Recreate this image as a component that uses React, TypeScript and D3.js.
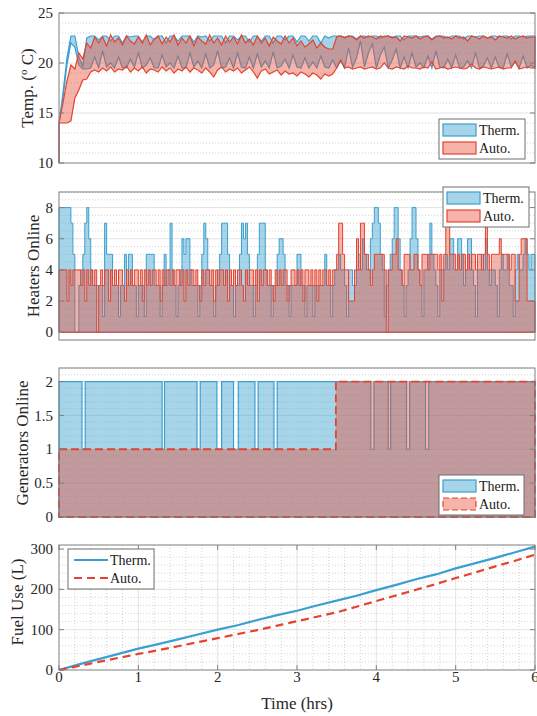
import React from 'react';
import * as d3 from 'd3';

// ---- data ----
const STEP_TEMP = 0.05;
const STEP_HEAT = 0.025;

// temperature envelopes, first point is the initial 10 C reading at t = 0
const thermTempHi = [10,
  14, 17, 20.5, 22.7, 22.7, 20.6, 19.7, 22.5, 22.7, 22.7,
  22.3, 22.7, 22.7, 22.2, 22.7, 22.7, 22.0, 22.7, 22.6, 22.7,
  22.7, 22.1, 22.7, 22.7, 22.3, 22.7, 22.7, 22.0, 22.7, 22.7,
  22.2, 22.7, 22.7, 22.7, 22.1, 22.7, 22.6, 22.7, 22.2, 22.7,
  22.7, 22.7, 22.0, 22.7, 22.7, 22.3, 22.7, 22.7, 22.1, 22.7,
  22.7, 22.2, 22.7, 22.7, 22.0, 22.7, 22.7, 22.3, 22.7, 22.7,
  22.1, 22.7, 22.7, 22.2, 22.7, 22.7, 22.0, 22.7, 22.5, 22.7,
  22.7, 22.7, 22.6, 22.7, 22.7, 22.4, 22.7, 22.7, 22.6, 22.7,
  22.7, 22.5, 22.7, 22.7, 22.6, 22.7, 22.7, 22.3, 22.7, 22.7,
  22.7, 22.6, 22.7, 22.7, 22.4, 22.7, 22.7, 22.7, 22.5, 22.7,
  22.7, 22.7, 22.4, 22.7, 22.7, 22.6, 22.7, 22.7, 22.5, 22.7,
  22.7, 22.6, 22.7, 22.7, 22.4, 22.7, 22.7, 22.6, 22.7, 22.7,
  22.7];
const thermTempLo = [10,
  14, 16.5, 19.8, 22.0, 21.6, 19.8, 19.4, 19.4, 19.5, 20.6,
  19.5, 21.2, 19.6, 20.0, 19.5, 20.6, 19.5, 19.5, 20.4, 19.6,
  21.0, 19.5, 19.8, 20.5, 19.5, 19.5, 20.8, 19.6, 20.0, 19.5,
  20.7, 19.5, 19.5, 21.0, 19.6, 20.2, 19.5, 20.9, 19.5, 19.8,
  21.2, 19.5, 19.6, 20.5, 19.5, 21.0, 19.6, 19.5, 20.6, 19.5,
  20.9, 19.6, 20.2, 19.5, 21.1, 19.5, 19.7, 20.4, 19.5, 20.8,
  19.6, 19.5, 20.5, 19.5, 20.1, 19.5, 20.7, 19.6, 19.5, 20.3,
  19.5, 20.2, 19.5, 21.5, 19.6, 20.5, 22.2, 19.6, 21.0, 21.9,
  19.5, 20.8, 21.6, 19.5, 20.3, 21.4, 19.5, 20.6, 19.5, 21.0,
  19.6, 20.0, 19.5, 20.7, 19.5, 21.2, 19.6, 19.5, 20.4, 19.5,
  20.8, 19.5, 19.6, 20.2, 19.5, 21.0, 19.5, 19.7, 20.5, 19.5,
  20.6, 19.5, 19.5, 20.9, 19.6, 20.1, 19.5, 20.7, 19.5, 19.8,
  19.5];
const autoTempHi = [10,
  14, 16.0, 18.2, 19.8, 19.4, 21.0, 20.4, 22.0, 21.5, 22.6,
  22.0, 22.6, 21.7, 22.8, 22.1, 22.5, 21.8, 22.7, 22.2, 21.9,
  22.6, 22.0, 22.8, 21.8, 22.4, 22.7, 21.9, 22.6, 22.1, 22.8,
  21.8, 22.5, 22.0, 22.7, 21.7, 22.6, 22.2, 21.9, 22.8, 22.0,
  22.5, 21.8, 22.7, 22.1, 22.6, 21.9, 22.8, 22.0, 22.4, 21.8,
  22.7, 22.0, 22.5, 21.7, 22.6, 22.2, 21.9, 22.7, 22.0, 22.5,
  21.7, 22.2, 21.6, 21.9, 22.3, 21.5, 22.0, 21.6, 21.4, 21.4,
  22.6, 22.7, 22.5, 22.7, 22.6, 22.3, 22.7, 22.5, 22.7, 22.6,
  22.4, 22.7, 22.6, 22.7, 22.5, 22.6, 22.2, 22.7, 22.6, 22.5,
  22.7, 22.4, 22.6, 22.7, 22.3, 22.6, 22.7, 22.5, 22.6, 22.4,
  22.7, 22.5, 22.6, 22.2, 22.7, 22.6, 22.4, 22.7, 22.5, 22.6,
  22.3, 22.7, 22.6, 22.5, 22.7, 22.4, 22.6, 22.7, 22.5, 22.6,
  22.6];
const autoTempLo = [10,
  14, 14, 14, 14.2, 16.5, 17.3, 18.3, 18.4, 19.1, 19.3,
  19.1, 19.5, 19.2, 19.6, 19.1, 19.4, 19.3, 19.7, 19.1, 19.5,
  19.2, 19.6, 19.0, 19.4, 19.3, 19.1, 19.6, 19.2, 19.5, 19.0,
  19.4, 19.2, 19.6, 19.1, 19.5, 19.3, 19.0, 19.5, 19.1, 18.6,
  19.3, 19.6, 19.1, 19.4, 19.2, 19.5, 19.0, 19.3, 19.6, 19.1,
  18.5, 19.2, 19.4, 18.9, 19.1, 19.3, 18.8, 19.2, 18.9, 19.0,
  18.7, 19.1, 18.9, 18.6, 19.0, 18.8, 18.4, 18.9, 18.7, 18.9,
  19.5, 20.3, 19.5, 19.6, 19.4, 19.5, 19.6, 19.4, 19.5, 19.6,
  19.4, 19.5, 20.0, 19.5, 19.4, 19.6, 19.5, 19.4, 19.7, 19.5,
  19.5, 19.4, 19.6, 19.5, 20.1, 19.4, 19.5, 19.6, 19.4, 19.5,
  19.6, 19.5, 19.4, 19.5, 19.9, 19.5, 19.4, 19.6, 19.5, 19.4,
  19.5, 19.6, 19.4, 19.5, 19.5, 20.2, 19.4, 19.5, 19.6, 19.5,
  19.5];

const thermHeaters = [
  8,8,8,8,8,8,7,5,0,0, 3,4,5,7,8,6,4,3,3,3,
  3,3,1,7,5,5,5,3,3,3, 1,3,3,5,3,5,5,3,3,1,
  3,3,3,1,5,5,5,5,3,3, 3,1,3,5,3,4,7,4,3,1,
  3,4,6,5,6,6,4,3,3,3, 1,3,5,7,6,4,3,3,1,3,
  4,5,7,7,7,5,3,3,1,3, 3,5,7,6,7,5,3,3,1,3,
  5,7,7,7,4,3,3,1,3,3, 5,6,6,5,3,3,1,3,3,3,
  5,5,3,3,1,3,3,3,1,3, 3,3,3,3,5,3,3,1,3,4,
  4,5,4,4,3,1,4,4,3,3, 4,5,4,6,5,4,4,6,7,8,
  8,7,5,4,1,3,4,5,6,8, 8,6,4,3,1,3,4,6,8,8,
  6,4,3,1,4,4,5,7,5,4, 3,1,4,4,4,5,4,6,6,4,
  4,6,6,5,3,4,6,6,4,3, 1,4,4,5,4,6,4,3,4,4,
  3,1,4,5,4,4,5,3,3,1, 4,5,4,4,5,6,5,4,5,5, 4];
const autoHeaters = [
  4,4,4,4,2,4,3,4,4,4, 4,3,4,2,4,3,4,3,4,0,
  3,4,3,4,4,2,4,3,4,3, 4,4,3,2,4,3,4,3,4,4,
  3,4,2,4,3,4,3,4,4,3, 4,2,4,3,4,4,3,4,3,4,
  4,3,4,2,4,3,4,4,3,4, 3,2,4,3,4,4,3,4,2,4,
  3,4,4,3,4,2,4,3,4,3, 4,4,3,2,4,3,4,4,3,4,
  2,4,3,4,4,3,4,3,2,4, 3,4,3,4,4,2,3,4,4,3,
  4,3,4,2,4,4,3,4,3,4, 2,4,3,4,4,3,4,3,4,4,
  5,7,7,5,4,4,2,2,2,4, 6,4,7,7,5,5,4,3,4,5,
  5,5,5,5,4,0,4,4,5,5, 6,4,4,3,5,5,5,4,4,5,
  5,4,3,5,5,5,4,5,5,5, 5,4,5,2,5,7,7,5,5,5,
  4,5,4,5,5,4,5,4,5,5, 4,5,5,4,5,7,5,4,5,5,
  5,5,6,5,5,5,5,4,5,5, 2,2,5,6,6,6,2,2,2,2, 2];

const thermGenTime = [0, 0.29, 0.33, 1.30, 1.33, 1.74, 1.78, 1.99, 2.05, 2.20, 2.26, 2.47, 2.51, 2.71, 2.75, 3.93, 3.97, 4.15, 4.18, 4.38, 4.42, 4.62, 4.66, 6];
const thermGenValue = [2, 1, 2, 1, 2, 1, 2, 1, 2, 1, 2, 1, 2, 1, 2, 1, 2, 1, 2, 1, 2, 1, 2, 2];
const autoGenTime = [0, 3.49, 6];
const autoGenValue = [1, 2, 2];

const fuelTime = [0, 0.25, 0.5, 0.75, 1, 1.25, 1.5, 1.75, 2, 2.25, 2.5, 2.75, 3, 3.25, 3.5, 3.75, 4, 4.25, 4.5, 4.75, 5, 5.25, 5.5, 5.75, 6];
const thermFuel = [0, 14, 27, 40, 53, 64, 76, 88, 100, 111, 124, 136, 147, 160, 172, 184, 198, 211, 225, 237, 252, 265, 278, 292, 306];
const autoFuel = [0, 10, 20, 30, 40, 49, 59, 69, 79, 89, 99, 110, 121, 132, 143, 157, 171, 185, 199, 213, 228, 242, 257, 271, 286];

const xTickValues = [0, 1, 2, 3, 4, 5, 6];

// ---- styling ----
const X0 = 59;
const X1 = 535;
const FONT = '"Liberation Serif", "Times New Roman", serif';
const AXIS = '#7f7f7f';
const BLUE = '#3b9fd0';
const BLUE_FILL = 'rgba(66,163,206,0.47)';
const RED = '#e4432f';
const RED_FILL = 'rgba(232,74,52,0.42)';

const x = d3.scaleLinear().domain([0, 6]).range([X0, X1]);

const tempTime = [0, ...d3.range(121).map(i => i * STEP_TEMP)];
const heatTime = d3.range(thermHeaters.length).map(i => i * STEP_HEAT);

type Sc = d3.ScaleLinear<number, number>;

function Grid({ y, majors, minors, xMajors = [], xMinors = [] }: { y: Sc; majors: number[]; minors: number[]; xMajors?: number[]; xMinors?: number[] }) {
  const [yb, yt] = y.range();
  return (
    <g>
      {minors.map(v => (
        <line key={'ym' + v} x1={X0} x2={X1} y1={y(v)} y2={y(v)} stroke="#c8c8c8" strokeWidth={0.8} strokeDasharray="1 2" />
      ))}
      {xMinors.map(v => (
        <line key={'xm' + v} x1={x(v)} x2={x(v)} y1={yt} y2={yb} stroke="#c8c8c8" strokeWidth={0.8} strokeDasharray="1 2" />
      ))}
      {majors.map(v => (
        <line key={'y' + v} x1={X0} x2={X1} y1={y(v)} y2={y(v)} stroke="#e2e2e2" strokeWidth={1} />
      ))}
      {xMajors.map(v => (
        <line key={'x' + v} x1={x(v)} x2={x(v)} y1={yt} y2={yb} stroke="#e2e2e2" strokeWidth={1} />
      ))}
    </g>
  );
}

function Box({ y, ticks, fmt = (v: number) => String(v), xTicks = false }: { y: Sc; ticks: number[]; fmt?: (v: number) => string; xTicks?: boolean }) {
  const [yb, yt] = y.range();
  return (
    <g fontFamily={FONT} fontSize={15} fill="#262626">
      <rect x={X0} y={yt} width={X1 - X0} height={yb - yt} fill="none" stroke={AXIS} strokeWidth={1} />
      {ticks.map(v => (
        <g key={v}>
          <line x1={X0} x2={X0 + 5} y1={y(v)} y2={y(v)} stroke={AXIS} />
          <line x1={X1} x2={X1 - 5} y1={y(v)} y2={y(v)} stroke={AXIS} />
          <text x={53} y={y(v)} dy="0.34em" textAnchor="end">{fmt(v)}</text>
        </g>
      ))}
      {xTicks && xTickValues.map(v => (
        <g key={'x' + v}>
          <line x1={x(v)} x2={x(v)} y1={yb} y2={yb - 5} stroke={AXIS} />
          <line x1={x(v)} x2={x(v)} y1={yt} y2={yt + 5} stroke={AXIS} />
          <text x={x(v)} y={yb + 12} textAnchor="middle">{v}</text>
        </g>
      ))}
    </g>
  );
}

type Item = { label: string; color: string; fill?: string; dash?: string; line?: boolean };

function Legend({ left, top, width, items }: { left: number; top: number; width: number; items: Item[] }) {
  const rowH = 18;
  return (
    <g fontFamily={FONT} fontSize={14} fill="#1a1a1a">
      <rect x={left} y={top} width={width} height={items.length * rowH + 4} fill="#fff" stroke="#6e6e6e" strokeWidth={1} />
      {items.map((it, i) => {
        const cy = top + 2 + rowH / 2 + i * rowH;
        return (
          <g key={it.label}>
            {it.line ? (
              <line x1={left + 6} x2={left + 40} y1={cy} y2={cy} stroke={it.color} strokeWidth={2} strokeDasharray={it.dash} />
            ) : (
              <rect x={left + 4} y={cy - 6} width={33} height={12} fill={it.fill} stroke={it.color} strokeWidth={1.2} strokeDasharray={it.dash} />
            )}
            <text x={left + (it.line ? 42 : 40)} y={cy} dy="0.34em">{it.label}</text>
          </g>
        );
      })}
    </g>
  );
}

function YLabel({ cx, cy, children }: { cx: number; cy: number; children: React.ReactNode }) {
  return (
    <text transform={`translate(${cx},${cy}) rotate(-90)`} dy="0.33em" textAnchor="middle" fontFamily={FONT} fontSize={17} fill="#262626">
      {children}
    </text>
  );
}

export default function App() {
  // panel 1: temperature
  const y1 = d3.scaleLinear().domain([10, 25]).range([163, 13]);
  const band = (hi: number[], lo: number[]) =>
    d3.area<number>()
      .x((_, i) => x(tempTime[i]))
      .y0((_, i) => y1(lo[i]))
      .y1((_, i) => y1(hi[i]))(hi) || '';

  // panel 2: heaters
  const y2 = d3.scaleLinear().domain([-0.5, 9]).range([340, 192]);
  const stepArea = (vals: number[]) =>
    d3.area<number>()
      .curve(d3.curveStepAfter)
      .x((_, i) => x(heatTime[i]))
      .y0(y2(0))
      .y1(v => y2(v))(vals) || '';

  // panel 3: generators
  const y3 = d3.scaleLinear().domain([0, 2.2]).range([517, 368]);
  const genArea = (t: number[], vals: number[]) =>
    d3.area<number>()
      .curve(d3.curveStepAfter)
      .x((_, i) => x(t[i]))
      .y0(y3(0))
      .y1(v => y3(v))(vals) || '';

  // panel 4: fuel
  const y4 = d3.scaleLinear().domain([0, 310]).range([670, 545]);
  const fuelLine = (vals: number[]) =>
    d3.line<number>().x((_, i) => x(fuelTime[i])).y(v => y4(v))(vals) || '';

  const closed = (p: string) => p + 'Z';

  return (
    <svg width={537} height={716} style={{ position: 'absolute', left: 0, top: 0, background: '#fff' }}>
      {/* temperature */}
      <Grid y={y1} majors={[15, 20]} minors={d3.range(11, 25).filter(v => v % 5 !== 0)} />
      <path d={closed(band(thermTempHi, thermTempLo))} fill={BLUE_FILL} stroke={BLUE} strokeWidth={1.2} />
      <path d={closed(band(autoTempHi, autoTempLo))} fill={RED_FILL} stroke={RED} strokeWidth={1.2} />
      <Box y={y1} ticks={[10, 15, 20, 25]} />
      <YLabel cx={27} cy={88}>
        Temp. (<tspan dy={-6} fontSize={11}>o</tspan><tspan dy={6}> C)</tspan>
      </YLabel>
      <Legend left={439} top={119} width={86} items={[
        { label: 'Therm.', color: BLUE, fill: BLUE_FILL },
        { label: 'Auto.', color: RED, fill: RED_FILL },
      ]} />

      {/* heaters */}
      <Grid y={y2} majors={[0, 2, 4, 6, 8]} minors={d3.range(-0.5, 9.01, 0.5).filter(v => v % 2 !== 0)} />
      <path d={closed(stepArea(thermHeaters))} fill={BLUE_FILL} stroke={BLUE} strokeWidth={1} />
      <path d={closed(stepArea(autoHeaters))} fill={RED_FILL} stroke={RED} strokeWidth={1} />
      <Box y={y2} ticks={[0, 2, 4, 6, 8]} />
      <YLabel cx={33} cy={266}>Heaters Online</YLabel>
      <Legend left={443} top={187} width={86} items={[
        { label: 'Therm.', color: BLUE, fill: BLUE_FILL },
        { label: 'Auto.', color: RED, fill: RED_FILL },
      ]} />

      {/* generators */}
      <Grid y={y3} majors={[0.5, 1, 1.5, 2]} minors={d3.range(1, 23).filter(v => v % 5 !== 0).map(v => v / 10)} />
      <path d={closed(genArea(thermGenTime, thermGenValue))} fill={BLUE_FILL} stroke={BLUE} strokeWidth={1.2} />
      <path d={closed(genArea(autoGenTime, autoGenValue))} fill={RED_FILL} stroke={RED} strokeWidth={1.8} strokeDasharray="8 4" />
      <Box y={y3} ticks={[0, 0.5, 1, 1.5, 2]} />
      <YLabel cx={22} cy={443}>Generators Online</YLabel>
      <Legend left={439} top={475} width={85} items={[
        { label: 'Therm.', color: BLUE, fill: BLUE_FILL },
        { label: 'Auto.', color: RED, fill: RED_FILL, dash: '6 3' },
      ]} />

      {/* fuel */}
      <Grid
        y={y4}
        majors={[100, 200]}
        minors={d3.range(20, 310, 20).filter(v => v % 100 !== 0)}
        xMajors={[1, 2, 3, 4, 5]}
        xMinors={d3.range(1, 30).filter(v => v % 5 !== 0).map(v => v / 5)}
      />
      <path d={fuelLine(thermFuel)} fill="none" stroke={BLUE} strokeWidth={2.2} />
      <path d={fuelLine(autoFuel)} fill="none" stroke={RED} strokeWidth={2.2} strokeDasharray="8 5" />
      <Box y={y4} ticks={[0, 100, 200, 300]} xTicks />
      <YLabel cx={17} cy={602}>Fuel Use (L)</YLabel>
      <Legend left={68} top={549} width={86} items={[
        { label: 'Therm.', color: BLUE, line: true },
        { label: 'Auto.', color: RED, line: true, dash: '8 5' },
      ]} />
      <text x={(X0 + X1) / 2} y={709} textAnchor="middle" fontFamily={FONT} fontSize={17} fill="#262626">Time (hrs)</text>
    </svg>
  );
}
